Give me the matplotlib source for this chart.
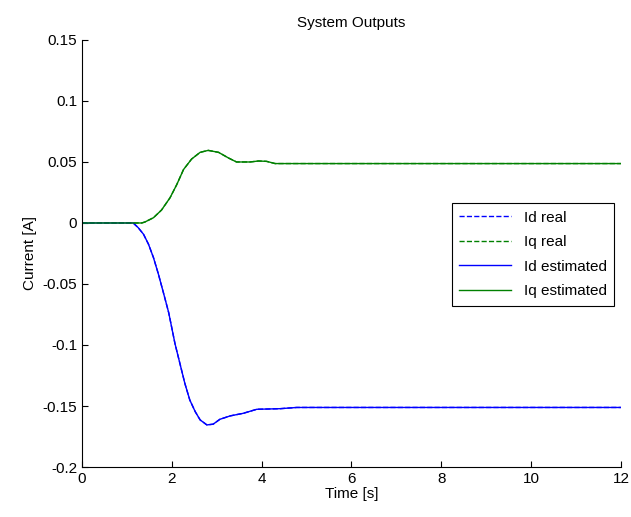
import numpy as np
import matplotlib.pyplot as plt

plt.rcParams['font.family'] = ['Liberation Sans', 'DejaVu Sans']

# Id current
t_d = [0, 1.14, 1.25, 1.37, 1.48, 1.59, 1.70, 1.81, 1.93, 2.07, 2.18, 2.29,
       2.40, 2.52, 2.63, 2.78, 2.92, 3.07, 3.30, 3.59, 3.89, 4.41, 4.78, 12]
id_vals = [0, 0, -0.0038, -0.0093, -0.0174, -0.0283, -0.0418, -0.0568, -0.0735,
           -0.0989, -0.1152, -0.1315, -0.1451, -0.1546, -0.1614, -0.1655,
           -0.1649, -0.1609, -0.1581, -0.156, -0.1527, -0.1522, -0.1512, -0.1512]

# Iq current
t_q = [0, 1.33, 1.40, 1.59, 1.77, 1.96, 2.11, 2.26, 2.44, 2.63, 2.81, 3.04, 3.26,
       3.44, 3.74, 3.93, 4.11, 4.30, 12]
iq_vals = [0, 0, 0.0008, 0.0043, 0.0106, 0.0207, 0.0315, 0.0438, 0.0524, 0.0579,
           0.0595, 0.0579, 0.0533, 0.050, 0.050, 0.0508, 0.0505, 0.0487, 0.0487]

fig = plt.figure(figsize=(6.31, 5.17), dpi=100)
ax = fig.add_axes([0.130, 0.0967, 0.854, 0.826])

ax.plot(t_d, id_vals, '--', color='blue', lw=1, label='Id real')
ax.plot(t_q, iq_vals, '--', color='green', lw=1, label='Iq real')
ax.plot(t_d, id_vals, '-', color='blue', lw=1, label='Id estimated')
ax.plot(t_q, iq_vals, '-', color='green', lw=1, label='Iq estimated')

ax.set_xlim(0, 12)
ax.set_ylim(-0.2, 0.15)
ax.set_xticks(np.arange(0, 13, 2))
ax.set_yticks([-0.2, -0.15, -0.1, -0.05, 0, 0.05, 0.1, 0.15])
ax.set_yticklabels(['-0.2', '-0.15', '-0.1', '-0.05', '0', '0.05', '0.1', '0.15'])
ax.tick_params(direction='in', length=4, labelsize=11, width=0.8)
ax.spines['top'].set_visible(False)
ax.spines['right'].set_visible(False)

ax.set_title('System Outputs', fontsize=11, pad=9)
ax.set_xlabel('Time [s]', fontsize=11, labelpad=1)
ax.set_ylabel('Current [A]', fontsize=11)

leg = ax.legend(loc='upper left', bbox_to_anchor=(0.686, 0.618), fontsize=11,
                fancybox=False, framealpha=1, edgecolor='black',
                handlelength=3.4, borderaxespad=0, labelspacing=0.68,
                borderpad=0.5)
leg.get_frame().set_linewidth(0.8)

fig.savefig('out.png', dpi=100)
